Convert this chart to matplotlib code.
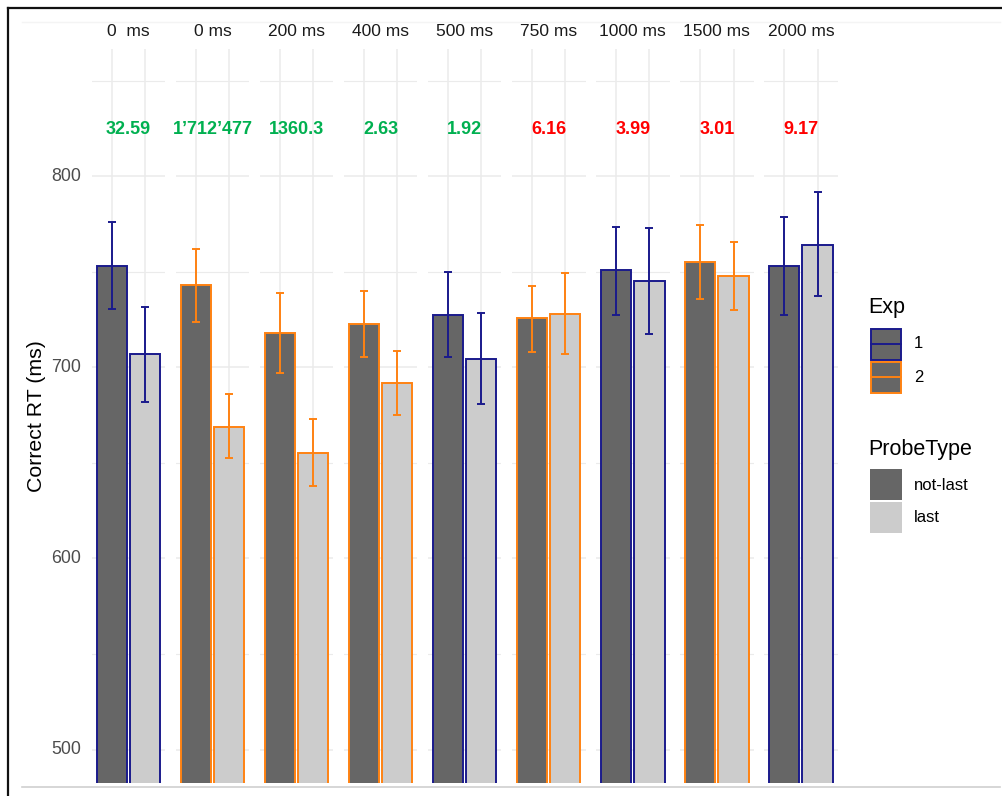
import matplotlib
matplotlib.use("Agg")
import matplotlib.pyplot as plt
from matplotlib.lines import Line2D
from matplotlib.patches import Rectangle
import numpy as np

plt.rcParams['font.family'] = ['Liberation Sans', 'DejaVu Sans']

# ---------------- data ----------------
panels = ["0  ms", "0 ms", "200 ms", "400 ms", "500 ms", "750 ms", "1000 ms", "1500 ms", "2000 ms"]
exp_id = [1, 2, 2, 2, 1, 2, 1, 2, 1]
probe_types = ["not-last", "last"]
rt_notlast = [753.2, 742.9, 718.1, 722.5, 727.5, 725.6, 750.8, 754.9, 752.9]
rt_last = [706.8, 668.9, 655.3, 691.8, 704.3, 727.9, 745.2, 747.6, 764.0]
hi_notlast = [776.2, 761.9, 738.7, 739.9, 749.9, 742.6, 773.5, 774.5, 778.5]
lo_notlast = [730.5, 723.9, 697.0, 705.2, 705.6, 708.2, 727.6, 735.6, 727.2]
hi_last = [731.7, 685.9, 672.8, 708.5, 728.3, 749.5, 772.7, 765.8, 791.6]
lo_last = [681.7, 652.4, 638.0, 675.0, 680.6, 706.8, 717.6, 729.8, 737.2]
bf_labels = ["32.59", "1\u2019712\u2019477", "1360.3", "2.63", "1.92", "6.16", "3.99", "3.01", "9.17"]
bf_support = [True, True, True, True, True, False, False, False, False]
y_ticks = [500, 600, 700, 800]
y_minor = [550, 650, 750, 850]

# ---------------- style ----------------
W, H = 1002, 796
exp_colors = {1: "#1a1a8c", 2: "#ff8212"}
fill_colors = {"not-last": "#666666", "last": "#cccccc"}
green, red = "#00b050", "#ff0000"
grid_col = "#ebebeb"
ymin, ymax = 482.5, 866.6

fig = plt.figure(figsize=(W / 100, H / 100), dpi=100)

def px_axes(x0, y0, x1, y1, **kw):
    return fig.add_axes([x0 / W, 1 - y1 / H, (x1 - x0) / W, (y1 - y0) / H], **kw)

panel_left0 = 91.7
panel_step = 84.04
panel_w = 73.6
panel_top, panel_bot = 49, 783

for i, name in enumerate(panels):
    x0 = panel_left0 + i * panel_step
    ax = px_axes(x0, panel_top, x0 + panel_w, panel_bot)
    ax.set_xlim(0.4, 2.6)
    ax.set_ylim(ymin, ymax)
    for s in ax.spines.values():
        s.set_visible(False)
    ax.set_xticks([])
    ax.set_yticks([])
    for yv in y_ticks:
        ax.axhline(yv, color=grid_col, lw=1.1, zorder=0)
    for yv in y_minor:
        ax.axhline(yv, color=grid_col, lw=0.8, zorder=0)
    for xv in [1, 2]:
        ax.axvline(xv, color=grid_col, lw=1.1, zorder=0)
    col = exp_colors[exp_id[i]]
    vals = [rt_notlast[i], rt_last[i]]
    ax.bar([1, 2], vals, width=0.9,
           color=[fill_colors[p] for p in probe_types],
           edgecolor=col, linewidth=1.4, zorder=2)
    lows = [lo_notlast[i], lo_last[i]]
    highs = [hi_notlast[i], hi_last[i]]
    yerr = np.array([[v - l for v, l in zip(vals, lows)],
                     [h - v for v, h in zip(vals, highs)]])
    ax.errorbar([1, 2], vals, yerr=yerr, fmt='none', ecolor=col,
                elinewidth=1.4, capsize=2.6, capthick=1.4, zorder=3)
    ax.text(1.5, 824.6, bf_labels[i], ha='center', va='center',
            fontsize=13, fontweight='bold',
            color=green if bf_support[i] else red)
    ax.text(0.5, 1.0 + 17 / (panel_bot - panel_top), name, transform=ax.transAxes,
            ha='center', va='center', fontsize=12.5, color='#1a1a1a')
    if i == 0:
        for yv in y_ticks:
            ax.text(-0.14, yv, str(yv), ha='right', va='center', fontsize=12.8,
                    color='#4d4d4d', transform=ax.get_yaxis_transform())

# overlay axes in pixel coordinates for labels, legends, and frame
ov = fig.add_axes([0, 0, 1, 1], zorder=-5)
ov.set_xlim(0, W)
ov.set_ylim(H, 0)
ov.axis('off')

ov.text(37, 416, "Correct RT (ms)", rotation=90, ha='center', va='center',
        fontsize=15.3, color='black')

# Exp legend
ov.text(868, 313, "Exp", ha='left', va='baseline', fontsize=15.5, color='black')
for k, (e, yc) in enumerate([(1, 344), (2, 377)]):
    ov.add_patch(Rectangle((871, yc - 15.5), 30.5, 31, facecolor="#666666",
                           edgecolor=exp_colors[e], lw=1.4))
    ov.add_line(Line2D([871, 901.5], [yc, yc], color=exp_colors[e], lw=1.4))
    ov.text(914, yc, str(e), ha='left', va='center', fontsize=12, color='black')

# ProbeType legend
ov.text(868, 455, "ProbeType", ha='left', va='baseline', fontsize=15.5, color='black')
for p, yc in zip(probe_types, [485, 518]):
    ov.add_patch(Rectangle((870, yc - 16), 32, 31, facecolor=fill_colors[p],
                           edgecolor='none'))
    ov.text(914, yc, p, ha='left', va='center', fontsize=12, color='black')

# screenshot frame lines
ov.add_line(Line2D([8, W], [8, 8], color='#111111', lw=1.6))
ov.add_line(Line2D([8, 8], [8, H], color='#111111', lw=1.6))
ov.add_line(Line2D([22, 1000], [786.5, 786.5], color='#d0d0d0', lw=1.2))
ov.add_line(Line2D([22, 1000], [22, 22], color='#f4f4f4', lw=1.0))

fig.savefig("out.png", dpi=100)
